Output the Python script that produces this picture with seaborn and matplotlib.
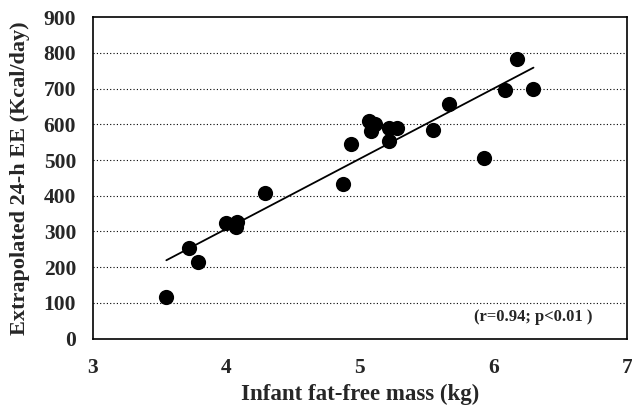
import numpy as np
import pandas as pd
import matplotlib
matplotlib.use("Agg")
import matplotlib.pyplot as plt
import seaborn as sns

# Infant fat-free mass (kg) vs extrapolated 24-h energy expenditure (Kcal/day)
ffm_kg = [3.55, 3.72, 3.79, 4.00, 4.08, 4.07, 4.29, 4.87, 4.93,
          5.07, 5.11, 5.08, 5.22, 5.28, 5.22, 5.55, 5.67, 5.93,
          6.09, 6.18, 6.30]
ee_kcal = [116, 254, 214, 324, 327, 313, 408, 432, 546,
           608, 600, 580, 590, 590, 554, 585, 658, 506,
           697, 782, 700]

x_ticks = [3, 4, 5, 6, 7]
y_ticks = [0, 100, 200, 300, 400, 500, 600, 700, 800, 900]

df = pd.DataFrame({"ffm": ffm_kg, "ee": ee_kcal})

sns.set_style("white")
plt.rcParams["font.family"] = ["Liberation Serif", "DejaVu Serif"]
plt.rcParams["font.weight"] = "bold"

fig = plt.figure(figsize=(6.32, 4.09), dpi=100)
ax = fig.add_axes([0.147, 0.172, 0.845, 0.786])

# dotted horizontal grid
for yv in y_ticks[1:-1]:
    ax.axhline(yv, color="black", linestyle=(0, (1, 2)), linewidth=0.8, zorder=0)

sns.regplot(data=df, x="ffm", y="ee", ax=ax, ci=None, truncate=True,
            scatter_kws={"s": 120, "color": "black", "alpha": 1, "linewidths": 0, "zorder": 3},
            line_kws={"color": "black", "linewidth": 1.3, "zorder": 2})

ax.set_xlim(3, 7)
ax.set_ylim(0, 900)
ax.set_xticks(x_ticks)
ax.set_yticks(y_ticks)
ax.tick_params(axis="both", direction="out", width=1, color="black", labelsize=15.5)
ax.tick_params(axis="x", length=4, pad=10)
ax.tick_params(axis="y", length=5, pad=7)
for lab in ax.get_xticklabels() + ax.get_yticklabels():
    lab.set_fontweight("bold")

for sp in ax.spines.values():
    sp.set_visible(True)
    sp.set_color("black")
    sp.set_linewidth(1.2)

ax.set_xlabel("Infant fat-free mass (kg)", fontsize=16.5, fontweight="bold", labelpad=4)
ax.set_ylabel("Extrapolated 24-h EE (Kcal/day)", fontsize=16, fontweight="bold", labelpad=10)

ax.text(0.936, 0.068, "(r=0.94; p<0.01 )", transform=ax.transAxes,
        ha="right", va="center", fontsize=12, fontweight="bold")

fig.savefig("out.png", dpi=100)
